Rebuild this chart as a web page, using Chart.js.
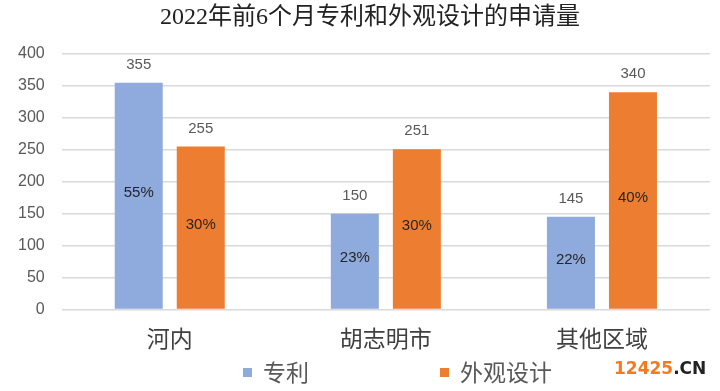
<!DOCTYPE html>
<html>
<head>
<meta charset="utf-8">
<script src="https://cdn.jsdelivr.net/npm/chart.js@4.4.1/dist/chart.umd.min.js"></script>
<style>
  html, body { margin: 0; padding: 0; background: #fff; }
  #wrap { width: 720px; height: 391px; }
</style>
</head>
<body>
<div id="wrap"><canvas id="chart"></canvas></div>
<script>
// data
const categories = ['河内', '胡志明市', '其他区域'];
const patentValues = [355, 150, 145];
const designValues = [255, 251, 340];
const patentShares = ['55%', '23%', '22%'];
const designShares = ['30%', '30%', '40%'];
const seriesNames = ['专利', '外观设计'];
const yTicks = [0, 50, 100, 150, 200, 250, 300, 350, 400];
const chartTitle = '2022年前6个月专利和外观设计的申请量';

const BLUE = '#8faadc';
const ORANGE = '#ed7d31';
const CJK = '"Noto Sans CJK SC", sans-serif';

// title drawn by hand so it can sit a bit right of the canvas centre
const topTitle = {
  id: 'topTitle',
  afterDraw(chart) {
    const ctx = chart.ctx;
    ctx.save();
    ctx.textAlign = 'center';
    ctx.textBaseline = 'middle';
    ctx.fillStyle = '#222';
    ctx.font = '24px "Liberation Serif", "Noto Sans CJK SC", serif';
    ctx.fillText(chartTitle, 370, 18);
    ctx.restore();
  }
};

// value labels above bars, share labels in the middle of bars
const barLabels = {
  id: 'barLabels',
  afterDatasetsDraw(chart) {
    const ctx = chart.ctx;
    const shares = [patentShares, designShares];
    ctx.save();
    ctx.textAlign = 'center';
    ctx.textBaseline = 'middle';
    chart.data.datasets.forEach((ds, i) => {
      chart.getDatasetMeta(i).data.forEach((bar, j) => {
        ctx.font = '15px "Liberation Sans", Arial, sans-serif';
        ctx.fillStyle = '#595959';
        ctx.fillText(String(ds.data[j]), bar.x, bar.y - 18);
        ctx.fillStyle = '#262626';
        ctx.fillText(shares[i][j], bar.x, (bar.y + bar.base) / 2 - 3);
      });
    });
    ctx.restore();
  }
};

// legend at the bottom plus the site mark
const bottomLegend = {
  id: 'bottomLegend',
  afterDraw(chart) {
    const ctx = chart.ctx;
    const y = 372;
    const spots = [243, 440];
    ctx.save();
    ctx.textBaseline = 'middle';
    chart.data.datasets.forEach((ds, i) => {
      ctx.fillStyle = ds.backgroundColor;
      ctx.fillRect(spots[i], y - 4, 9, 9);
      ctx.fillStyle = '#595959';
      ctx.font = '23px ' + CJK;
      ctx.fillText(ds.label, spots[i] + 20, y);
    });
    ctx.font = 'bold 17px "DejaVu Sans", sans-serif';
    ctx.fillStyle = '#f47a20';
    ctx.fillText('12425', 614, 370);
    const w = ctx.measureText('12425').width;
    ctx.fillStyle = '#222';
    ctx.fillText('.CN', 614 + w, 370);
    ctx.restore();
  }
};

new Chart(document.getElementById('chart'), {
  type: 'bar',
  data: {
    labels: categories,
    datasets: [
      { label: seriesNames[0], data: patentValues, backgroundColor: BLUE,
        categoryPercentage: 0.574, barPercentage: 0.774 },
      { label: seriesNames[1], data: designValues, backgroundColor: ORANGE,
        categoryPercentage: 0.574, barPercentage: 0.774 }
    ]
  },
  options: {
    responsive: true,
    maintainAspectRatio: false,
    animation: false,
    layout: { padding: { left: 1, right: 10, top: 54, bottom: 32 } },
    plugins: {
      legend: { display: false },
      tooltip: { enabled: false },
      title: { display: false }
    },
    scales: {
      x: {
        grid: { display: false },
        border: { display: false },
        ticks: {
          color: '#404040',
          padding: 7,
          font: { family: CJK, size: 23 }
        }
      },
      y: {
        min: 0,
        max: 400,
        afterBuildTicks: (axis) => { axis.ticks = yTicks.map(v => ({ value: v })); },
        grid: { color: '#d9d9d9', lineWidth: 1.5, drawTicks: false },
        border: { display: false },
        ticks: {
          color: '#595959',
          padding: 17,
          font: { family: '"Liberation Sans", Arial, sans-serif', size: 16 }
        }
      }
    }
  },
  plugins: [topTitle, barLabels, bottomLegend]
});
</script>
</body>
</html>
